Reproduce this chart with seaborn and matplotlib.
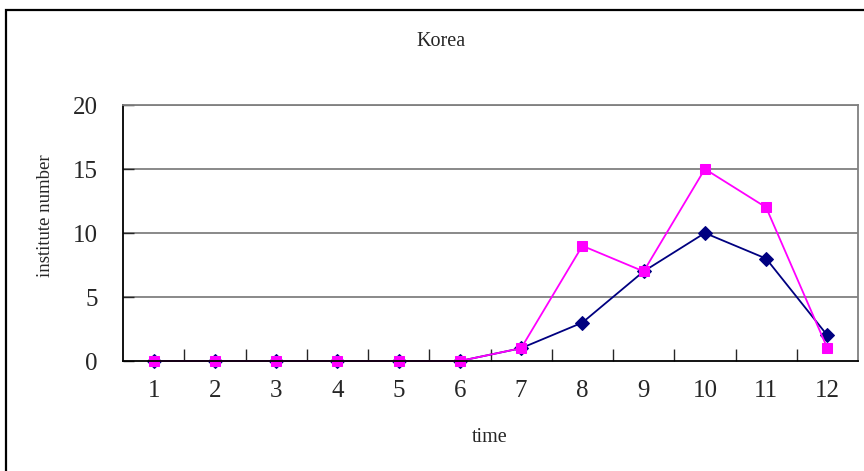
import pandas as pd
import matplotlib.pyplot as plt
import seaborn as sns
from matplotlib.patches import Rectangle

# data
time = [1, 2, 3, 4, 5, 6, 7, 8, 9, 10, 11, 12]
series_a = [0, 0, 0, 0, 0, 0, 1, 3, 7, 10, 8, 2]
series_b = [0, 0, 0, 0, 0, 0, 1, 9, 7, 15, 12, 1]
y_ticks = [0, 5, 10, 15, 20]

df = pd.DataFrame({"time": time, "a": series_a, "b": series_b})

sns.set_theme(style="white")
plt.rcParams["font.family"] = ["Liberation Serif", "DejaVu Serif"]

fig = plt.figure(figsize=(8.64, 4.71), dpi=100)
ax = fig.add_axes([123 / 864, 1 - 361 / 471, (858 - 123) / 864, (361 - 105) / 471])

# outer chart frame
fig.patches.append(Rectangle((6 / 864, -0.05), 1.2, 1 - 10 / 471 + 0.05,
                             transform=fig.transFigure, fill=False,
                             edgecolor="black", linewidth=1.6))

# gridlines
for v in y_ticks[1:]:
    ax.axhline(v, color="#808080", linewidth=1.3, zorder=0)

sns.lineplot(data=df, x="time", y="a", ax=ax, color="#000080", marker="D",
             markersize=7.5, markeredgecolor="#000080", linewidth=1.3, clip_on=False)
sns.lineplot(data=df, x="time", y="b", ax=ax, color="#FF00FF", marker="s",
             markersize=7.5, markeredgecolor="#FF00FF", linewidth=1.3, clip_on=False)

ax.set_xlim(0.5, 12.5)
ax.set_ylim(0, 20)
ax.set_yticks(y_ticks)
ax.set_xticks(time)
ax.set_xticks([t + 0.5 for t in time[:-1]], minor=True)
ax.tick_params(axis="y", labelsize=18, length=8, direction="in", width=1, pad=18, left=True)
ax.tick_params(axis="x", which="major", labelsize=18, length=0, pad=14)
ax.tick_params(axis="x", which="minor", length=9, direction="in", width=1, bottom=True)

for s in ["left", "bottom"]:
    ax.spines[s].set_color("black")
    ax.spines[s].set_linewidth(1.3)
for s in ["right", "top"]:
    ax.spines[s].set_color("#808080")
    ax.spines[s].set_linewidth(1.3)

ax.set_xlabel("")
ax.set_ylabel("")
fig.text(441 / 864, 1 - 41 / 471, "Korea", fontsize=14.5, ha="center", va="center")
fig.text(490 / 864, 1 - 437 / 471, "time", fontsize=14.5, ha="center", va="center")
fig.text(46 / 864, 1 - 216 / 471, "institute number", fontsize=13.5,
         rotation=90, ha="center", va="center")

fig.savefig("out.png", dpi=100)
